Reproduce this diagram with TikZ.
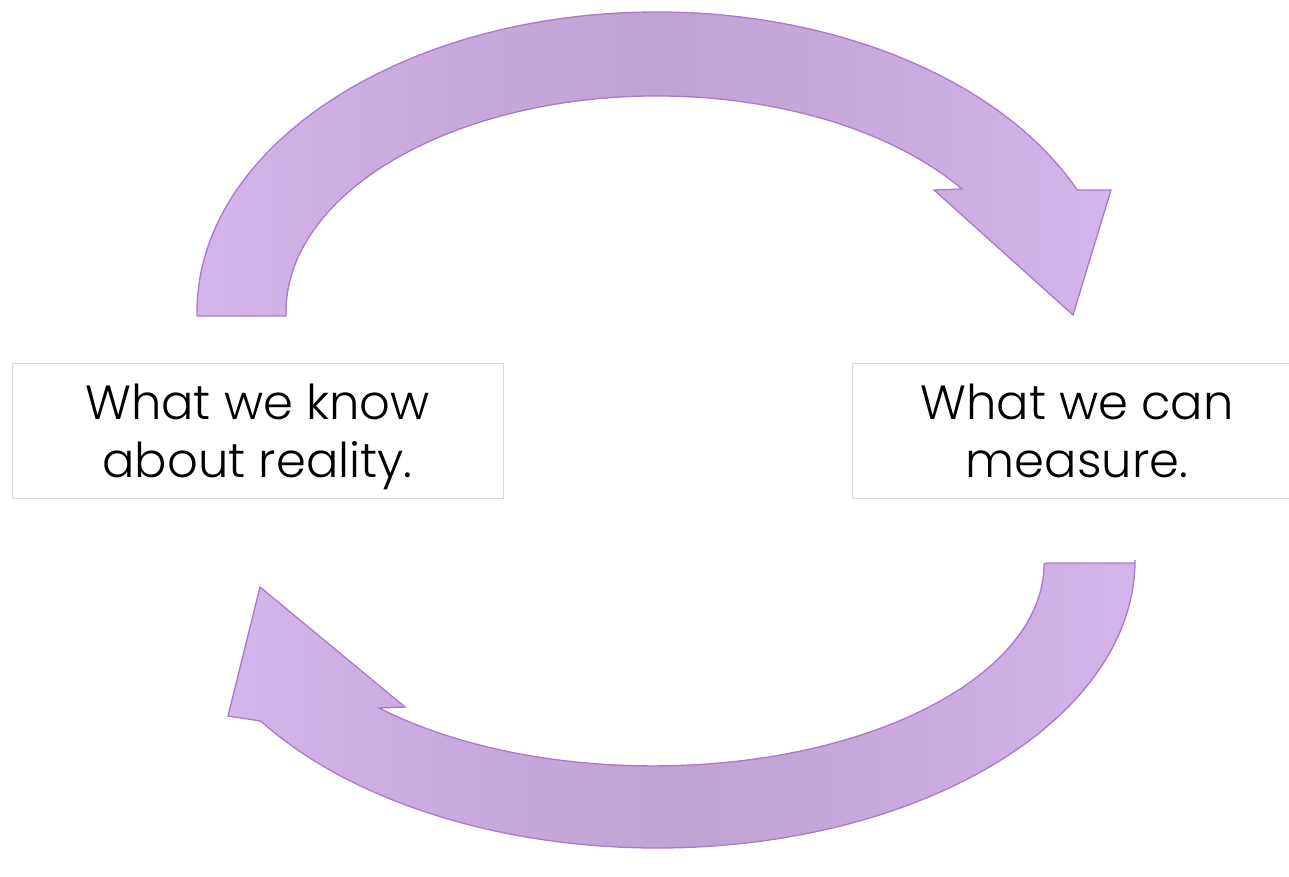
\documentclass[tikz,border=0pt]{standalone}
\usepackage{fontspec}
\setmainfont{Poppins}[UprightFont=* Light]
\definecolor{arrowlight}{RGB}{212,180,234}
\definecolor{arrowdark}{RGB}{191,161,211}
\definecolor{arrowline}{RGB}{168,122,200}
\definecolor{boxline}{RGB}{217,217,217}
\tikzset{
  cyclearrow/.style={draw=arrowline, line width=1.3pt, line join=miter,
    left color=arrowlight, right color=arrowlight, middle color=arrowdark},
  labelbox/.style={draw=boxline, line width=1pt, fill=white,
    minimum height=135, inner sep=0pt},
  labeltext/.style={align=center, inner sep=0pt,
    font=\fontsize{48}{58}\selectfont}
}
\begin{document}
\begin{tikzpicture}[x=1pt, y=1pt]
\useasboundingbox (0,0) rectangle (1289,876);

% upper arrow: from the left box over the top to the right box
\shadedraw[cyclearrow]
  (197,560) -- (197,564)
  arc[start angle=180, end angle=24, x radius=460, y radius=300]
  -- (1111,686) -- (1073,561) -- (934,686) -- (962,687)
  arc[start angle=34.7, end angle=180, x radius=371, y radius=216]
  -- (286,560) -- cycle;

% lower arrow: from the right box under the bottom back to the left box
\shadedraw[cyclearrow]
  (1048,313) -- (1135,313) -- (1135,316)
  arc[start angle=0, end angle=-146, x radius=478, y radius=288]
  -- (228,160) -- (260,289) -- (405,169) -- (379,168)
  arc[start angle=-134.5, end angle=0, x radius=391, y radius=202]
  -- cycle;

% the two statements, each in its frame
\node[labelbox, minimum width=491] (knowbox) at (257.5,444.5) {};
\node[labeltext] (know) at ([yshift=-5pt]knowbox.center)
  {What we know\\about reality.};
\node[labelbox, minimum width=450] (measurebox) at (1077,444.5) {};
\node[labeltext] (measure) at ([yshift=-5pt]measurebox.center)
  {What we can\\measure.\vphantom{y}};
\end{tikzpicture}
\end{document}
